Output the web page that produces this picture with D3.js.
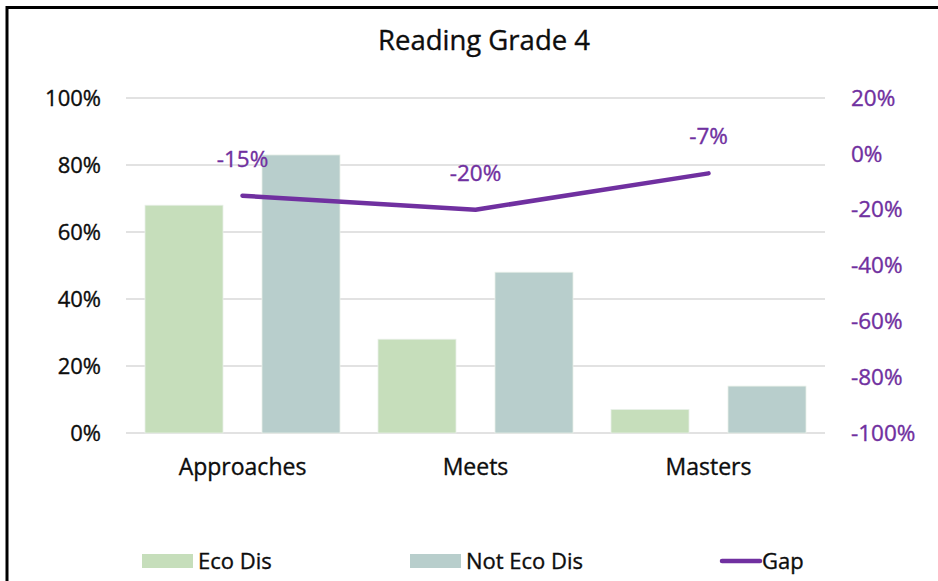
<!DOCTYPE html>
<html>
<head>
<meta charset="utf-8">
<script src="https://cdn.jsdelivr.net/npm/d3@7"></script>
<style>
  html, body { margin: 0; padding: 0; background: #fff; }
  svg { display: block; font-family: "Open Sans", "Noto Sans", sans-serif; }
  svg text { stroke-width: 0.35px; }
</style>
</head>
<body>
<svg id="chart" width="938" height="581"></svg>
<script>
// Reading Grade 4 — share of students at each performance level
const categories = ["Approaches", "Meets", "Masters"];
const ecoDis = [68, 28, 7];
const notEcoDis = [83, 48, 14];
const gap = [-15, -20, -7];
const leftTicks = [0, 20, 40, 60, 80, 100];
const rightTicks = [-100, -80, -60, -40, -20, 0, 20];
const seriesNames = ["Eco Dis", "Not Eco Dis", "Gap"];

const colors = { eco: "#C6DEBB", notEco: "#B8CECC", gap: "#7030A0", grid: "#D9D9D9", text: "#0d0d0d" };

const svg = d3.select("#chart");
const W = 938, H = 581;
const plot = { left: 126, right: 825, top: 98, bottom: 433 };

// frame around the chart area
svg.append("path")
  .attr("d", `M7,${H} L7,7.5 L${W},7.5`)
  .attr("fill", "none")
  .attr("stroke", "#000")
  .attr("stroke-width", 3);

// title
svg.append("text")
  .attr("x", 484).attr("y", 50)
  .attr("text-anchor", "middle")
  .attr("font-size", 27.5)
  .attr("fill", colors.text)
  .attr("stroke", colors.text)
  .text("Reading Grade 4");

const x0 = d3.scaleBand().domain(categories).range([plot.left, plot.right]).paddingInner(0).paddingOuter(0);
const x1 = d3.scaleBand().domain(["eco", "notEco"]).range([0, x0.bandwidth()]).paddingInner(1 / 3).paddingOuter(0.1624);
const yL = d3.scaleLinear().domain([0, 100]).range([plot.bottom, plot.top]);
const yR = d3.scaleLinear().domain([-100, 20]).range([plot.bottom, plot.top]);

// gridlines
svg.append("g")
  .selectAll("line")
  .data(leftTicks)
  .join("line")
  .attr("x1", plot.left).attr("x2", plot.right)
  .attr("y1", d => yL(d)).attr("y2", d => yL(d))
  .attr("stroke", colors.grid)
  .attr("stroke-width", 1.5);

// left axis
const leftAxis = svg.append("g")
  .attr("transform", `translate(${plot.left - 25},0)`)
  .call(d3.axisLeft(yL).tickValues(leftTicks).tickFormat(d => d + "%").tickSize(0).tickPadding(0));
leftAxis.select(".domain").remove();
leftAxis.selectAll("text").attr("font-size", 22).attr("fill", colors.text).attr("stroke", colors.text).attr("font-family", "Open Sans");

// right axis
const rightAxis = svg.append("g")
  .attr("transform", `translate(${plot.right + 26},0)`)
  .call(d3.axisRight(yR).tickValues(rightTicks).tickFormat(d => d + "%").tickSize(0).tickPadding(0));
rightAxis.select(".domain").remove();
rightAxis.selectAll("text").attr("font-size", 22.5).attr("fill", colors.gap).attr("stroke", colors.gap).attr("font-family", "Open Sans");

// bars
const groups = svg.append("g")
  .selectAll("g")
  .data(categories.map((c, i) => ({ c, eco: ecoDis[i], notEco: notEcoDis[i] })))
  .join("g")
  .attr("transform", d => `translate(${x0(d.c)},0)`);

groups.selectAll("rect")
  .data(d => [{ k: "eco", v: d.eco }, { k: "notEco", v: d.notEco }])
  .join("rect")
  .attr("x", d => x1(d.k))
  .attr("width", x1.bandwidth())
  .attr("y", d => yL(d.v))
  .attr("height", d => yL(0) - yL(d.v))
  .attr("fill", d => colors[d.k])
  .attr("stroke", "#E8F0E8")
  .attr("stroke-width", 0.8);

// category labels
const xAxis = svg.append("g")
  .attr("transform", `translate(0,${plot.bottom})`)
  .call(d3.axisBottom(x0).tickSize(0).tickPadding(26));
xAxis.select(".domain").remove();
xAxis.selectAll("text").attr("font-size", 23).attr("fill", colors.text).attr("stroke", colors.text).attr("font-family", "Open Sans");

// gap line
const cx = d => x0(d) + x0.bandwidth() / 2;
svg.append("path")
  .datum(categories.map((c, i) => [cx(c), yR(gap[i])]))
  .attr("d", d3.line())
  .attr("fill", "none")
  .attr("stroke", colors.gap)
  .attr("stroke-width", 4.5)
  .attr("stroke-linecap", "round")
  .attr("stroke-linejoin", "round");

// gap labels
svg.append("g")
  .selectAll("text")
  .data(categories.map((c, i) => ({ c, v: gap[i] })))
  .join("text")
  .attr("x", d => cx(d.c))
  .attr("y", d => yR(d.v) - 29)
  .attr("text-anchor", "middle")
  .attr("font-size", 22.5)
  .attr("fill", colors.gap)
  .attr("stroke", colors.gap)
  .text(d => d.v + "%");

// legend
const legendY = 561;
const legend = svg.append("g");
const items = [
  { name: seriesNames[0], type: "rect", color: colors.eco, x: 142 },
  { name: seriesNames[1], type: "rect", color: colors.notEco, x: 410 },
  { name: seriesNames[2], type: "line", color: colors.gap, x: 722 }
];
items.forEach(it => {
  if (it.type === "rect") {
    legend.append("rect").attr("x", it.x).attr("y", legendY - 7).attr("width", 51).attr("height", 14).attr("fill", it.color);
  } else {
    legend.append("line").attr("x1", it.x).attr("x2", it.x + 38).attr("y1", legendY).attr("y2", legendY)
      .attr("stroke", it.color).attr("stroke-width", 4.5).attr("stroke-linecap", "round");
  }
  legend.append("text").attr("x", it.x + (it.type === "rect" ? 56 : 40)).attr("y", legendY).attr("dy", "0.35em")
    .attr("font-size", 22).attr("fill", colors.text).attr("stroke", colors.text).text(it.name);
});
</script>
</body>
</html>
